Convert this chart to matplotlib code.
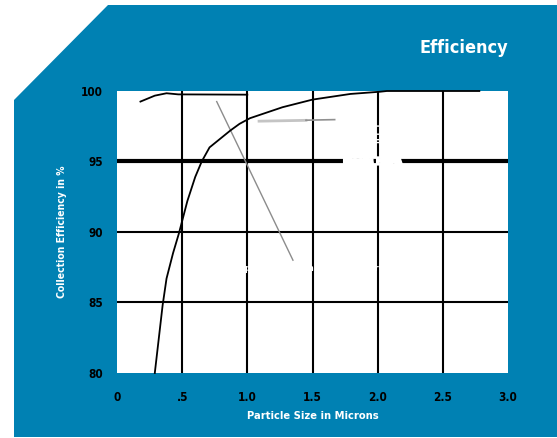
import matplotlib
matplotlib.use("Agg")
import matplotlib.pyplot as plt
from matplotlib.patches import Polygon
import matplotlib.patheffects as pe

plt.rcParams['font.family'] = ['DejaVu Sans']
plt.rcParams['font.stretch'] = 'condensed'

# ---- data ----
x_ticks = [0, 0.5, 1.0, 1.5, 2.0, 2.5, 3.0]
x_tick_labels = ["0", ".5", "1.0", "1.5", "2.0", "2.5", "3.0"]
y_ticks = [80, 85, 90, 95, 100]
y_tick_labels = ["80", "85", "90", "95", "100"]

curve_a_x = [0.18, 0.29, 0.38, 0.47, 1.0]
curve_a_y = [99.25, 99.67, 99.84, 99.76, 99.74]

curve_b_x = [0.29, 0.35, 0.38, 0.43, 0.475, 0.54, 0.60, 0.65, 0.71, 0.79, 0.87,
             0.94, 1.02, 1.27, 1.50, 1.79, 2.02, 2.07, 2.78]
curve_b_y = [80.0, 84.8, 86.7, 88.5, 89.9, 92.2, 93.9, 95.0, 96.0, 96.6, 97.2,
             97.67, 98.07, 98.85, 99.39, 99.79, 99.95, 100.0, 100.0]

pointer1_x = [0.765, 1.35]
pointer1_y = [99.25, 88.0]
pointer2a_x = [1.09, 1.45]
pointer2a_y = [97.86, 97.92]
pointer2b_x = [1.45, 1.67]
pointer2b_y = [97.93, 97.97]

W, H = 557, 438
TEAL = "#0081b3"

fig = plt.figure(figsize=(W / 100, H / 100), dpi=100, facecolor="white")

# background panel with chamfered corner (pixel coords -> figure fraction)
pts = [(14, 437), (14, 100), (108, 5), (557, 5), (557, 437)]
poly = Polygon([(x / W, 1 - y / H) for x, y in pts], closed=True,
               transform=fig.transFigure, facecolor=TEAL, edgecolor="none",
               zorder=-5)
fig.patches.append(poly)

ax = fig.add_axes([117 / W, 1 - 373 / H, 391 / W, 282 / H])
ax.set_zorder(2)
ax.set_facecolor("white")
ax.set_xlim(0, 3.0)
ax.set_ylim(80, 100)
for s in ax.spines.values():
    s.set_visible(False)

# grid
for xv in [0.5, 1.0, 1.5, 2.0, 2.5]:
    ax.axvline(xv, color="black", lw=1.5, zorder=1)
for yv in [85, 90]:
    ax.axhline(yv, color="black", lw=1.5, zorder=1)
ax.axhline(95, color="black", lw=3.0, zorder=1)

# curves
ax.plot(curve_a_x, curve_a_y, color="black", lw=1.3, zorder=3, clip_on=False)
ax.plot(curve_b_x, curve_b_y, color="black", lw=1.3, zorder=3, clip_on=False)
ax.plot(pointer1_x, pointer1_y, color="#8c8c8c", lw=1.0, zorder=2)
ax.plot(pointer2a_x, pointer2a_y, color="#c4c4c4", lw=2.0, zorder=2)
ax.plot(pointer2b_x, pointer2b_y, color="#909090", lw=1.2, zorder=2)

# white labels (invisible on white, they break the lines)
stroke = [pe.withStroke(linewidth=1.6, foreground="white")]
ax.text(1.96, 95, "Meets HEPA", color="white", fontsize=7, fontweight="bold",
        ha="center", va="center", zorder=4, path_effects=stroke)
ax.text(1.5, 87.4, "Typical collection efficiency curve", color="white",
        fontsize=6.5, fontweight="bold", ha="center", va="center", zorder=4)
ax.text(2.0, 97.0, "II I  I", color="white", fontsize=6, fontweight="bold",
        ha="center", va="center", rotation=90, zorder=4)

# ticks
ax.set_xticks(x_ticks)
ax.set_xticklabels(x_tick_labels, fontsize=8.5, fontweight="bold")
ax.set_yticks(y_ticks)
ax.set_yticklabels(y_tick_labels, fontsize=8.5, fontweight="bold")
ax.tick_params(axis="both", length=0, colors="black")
ax.tick_params(axis="x", pad=13)
ax.tick_params(axis="y", pad=10)

ax.set_xlabel("Particle Size in Microns", color="white", fontsize=8,
              fontweight="bold", labelpad=5)
ax.set_ylabel("Collection Efficiency in %", color="white", fontsize=7.5,
              fontweight="bold", labelpad=10)

fig.text(508 / W, 1 - 48 / H, "Efficiency", color="white", fontsize=13,
         fontweight="bold", ha="right", va="center")

fig.savefig("out.png", dpi=100, facecolor="white")
